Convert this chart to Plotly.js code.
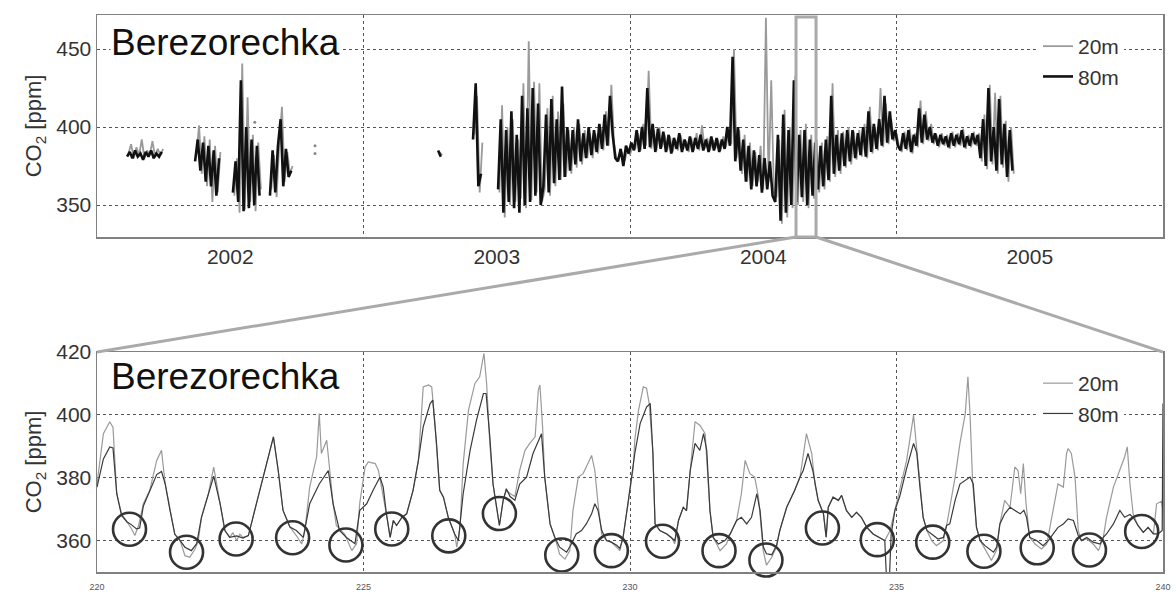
<!DOCTYPE html>
<html>
<head>
<meta charset="utf-8">
<script src="https://cdn.plot.ly/plotly-3.0.1.min.js"></script>
<style>html,body{margin:0;padding:0;background:#fff;}#chart{width:1176px;height:594px;}</style>
</head>
<body>
<div id="chart"></div>
<script>
// ---------------- DATA ----------------
// Top panel: multi-year record, segments sampled every sampleStep years
const segStart = [2002.113, 2002.368, 2002.51, 2002.649, 2003.28, 2003.411, 2003.505];
const sampleStep = 0.01;
const top80 = [
  [381,384,380,385,381,383,379,384,381,385,380,383,381,384],
  [378,392,372,390,365,388,362,385,356,380],
  [358,378,352,430,346,400,348,392,350,388,356],
  [356,385,358,388,405,362,386,368,372],
  [385,381],
  [392,428,362,370],
  [360,405,345,398,352,410,348,395,
   345,420,350,412,352,425,356,415,350,
   362,408,358,418,364,405,366,426,368,400,
   372,398,376,405,378,396,380,400,
   382,398,384,402,386,408,388,420,395,
   380,378,386,375,388,383,390,
   385,398,384,400,386,425,387,402,384,399,386,397,
   384,395,383,393,386,396,384,392,385,394,384,393,386,395,385,392,384,394,
   385,393,384,392,386,400,388,445,
   378,400,372,392,365,388,360,385,
   362,382,358,380,360,378,356,
   352,395,340,408,345,398,350,430,352,
   395,355,398,350,392,356,390,360,
   388,362,392,366,420,370,395,372,396,375,398,
   378,398,380,396,382,400,381,410,384,402,386,405,388,
   420,390,410,392,398,388,
   385,396,386,398,384,395,
   388,412,390,408,392,400,390,
   396,388,395,389,394,387,396,388,395,389,398,387,394,388,396,389,395,
   380,405,375,425,378,400,372,418,376,402,368,398,372]
];
const top20 = [
  [383,389,380,387,382,392,380,385,382,391,381,386,382,386],
  [383,401,370,394,362,392,352,388,358,384],
  [356,380,345,441,347,419,352,395,346,390,360],
  [360,382,355,390,413,365,384,370,375],
  [384,382],
  [395,420,358,390],
  [358,414,342,400,350,405,352,392,
   354,428,348,455,353,429,358,428,352,
   360,412,356,420,362,410,366,415,368,398,
   370,400,374,402,376,398,380,396,
   380,396,383,400,385,410,388,427,390,
   378,382,384,378,386,382,388,
   386,396,385,402,388,436,386,398,385,400,387,395,
   385,394,384,392,385,395,386,391,384,393,385,396,385,401,386,393,385,392,
   386,392,385,394,387,398,389,450,
   380,398,370,395,365,390,362,384,
   365,388,360,470,365,430,358,
   355,392,338,411,342,400,348,433,350,
   398,352,402,348,395,354,392,358,
   390,360,394,365,428,368,398,370,397,374,400,
   376,397,379,398,381,402,380,413,383,400,385,425,387,
   415,389,405,391,396,387,
   384,397,385,399,383,396,
   387,417,389,410,391,402,389,
   395,387,396,388,395,386,397,387,396,388,399,386,395,387,397,388,396,
   378,408,373,427,376,422,370,420,374,404,365,400,370]
];
const isoYear = [2002.592, 2002.818, 2002.818];
const isoCO2  = [403, 388, 383];
const yearTickVals = [2002.5, 2003.5, 2004.5, 2005.5];
const yearTickText = ['2002', '2003', '2004', '2005'];
const zoomWindow = [2004.623, 2004.698];

// Bottom panel: days 220-240 [day, ppm]
const bottom20m = [
 [220.0,378],[220.12,394],[220.24,397.8],[220.3,396],[220.37,375],[220.46,368.5],[220.56,366],[220.65,363.7],[220.71,361.6],[220.78,364.8],[220.87,371.7],[220.99,376],[221.12,385.5],[221.21,388.7],[221.28,378],[221.37,369.6],[221.46,362],[221.56,360],[221.65,355.2],[221.74,354.7],[221.84,357.3],[221.9,360],[221.96,367.4],[222.09,374.9],[222.19,383.4],[222.31,371.7],[222.4,363.2],[222.49,361],[222.55,362.5],[222.62,360],[222.68,362],[222.74,361],[222.84,361.6],[222.99,371.7],[223.15,382.3],[223.31,393],[223.4,382.3],[223.49,369.6],[223.62,364.3],[223.74,361.6],[223.84,358.9],[223.9,363],[223.99,377],[224.12,386.6],[224.17,400.4],[224.21,387.7],[224.31,391.9],[224.34,387],[224.43,371.7],[224.49,364.8],[224.65,362],[224.78,356.8],[224.87,359],[224.93,372],
 [225.03,383.4],[225.09,385],[225.22,384.5],[225.28,382.3],[225.34,377],[225.43,368.5],[225.5,361],[225.56,366.4],[225.62,364.8],[225.72,367.4],[225.81,368.5],[225.93,376],[226.03,385.5],[226.12,408.9],[226.22,409.5],[226.28,408.9],[226.34,397.2],[226.43,376],[226.5,373.8],[226.59,367.4],[226.71,362.1],[226.75,357.9],[226.81,364],[226.87,384.5],[226.97,401.5],[227.09,410],[227.18,412.1],[227.26,419.6],[227.31,410],[227.37,390.9],[227.43,378],[227.5,369.6],[227.55,364.8],[227.62,372.8],[227.68,376],[227.75,375],[227.84,374],[227.93,382.3],[228.03,388.7],[228.12,390.9],[228.22,393],[228.28,407.9],[228.31,409.5],[228.36,396.2],[228.4,380.2],[228.5,365.3],[228.59,361],[228.68,355.7],[228.78,354.1],[228.87,356.8],[228.93,369.6],[229.03,380.2],[229.12,381.3],[229.18,383.4],[229.28,387.1],[229.34,382.3],[229.4,371.7],[229.47,362],[229.56,360],[229.65,359.5],[229.75,357.9],[229.81,356.8],[229.87,361],[229.96,371.7],[230.0,375],[230.06,383],
 [230.09,392],[230.16,401.5],[230.25,408.9],[230.31,408.5],[230.36,403.6],[230.43,388],[230.47,365.3],[230.56,363.2],[230.69,362.1],[230.78,361],[230.84,358.9],[230.91,366.4],[231.0,370.6],[231.06,369.5],[231.13,382.3],[231.22,397.8],[231.31,396.7],[231.41,394],[231.5,369.6],[231.56,361],[231.69,356.8],[231.81,358.9],[231.88,362.1],[232.0,366.4],[232.09,374.9],[232.16,385.5],[232.25,381.3],[232.34,380.2],[232.41,373.8],[232.5,356.8],[232.56,352.2],[232.66,354.7],[232.75,358],[232.81,363.2],[232.94,370.6],[233.09,376],[233.19,380.2],[233.31,394],[233.41,387.7],[233.47,378],[233.53,372.8],[233.63,368.5],[233.68,361.1],[233.72,370.6],[233.81,373.8],[233.91,372.8],[233.97,374.4],[234.06,369.6],[234.16,367.4],[234.25,369],[234.34,367.4],[234.44,364.3],[234.56,362.1],[234.69,361],[234.78,360],[234.88,363.2],[234.97,369.6],[235.06,376],
 [235.19,385.5],[235.32,399.9],[235.38,389],[235.44,377],[235.5,367.4],[235.57,363.2],[235.66,360],[235.75,358.4],[235.88,360],[235.94,364.8],[236.0,370.6],[236.1,380.2],[236.19,390.9],[236.29,400.4],[236.34,412.1],[236.38,400],[236.43,378],[236.5,364.3],[236.57,360],[236.66,357.3],[236.78,353.7],[236.88,357],[236.94,365.3],[237.03,372.8],[237.13,370.6],[237.22,383.4],[237.28,382.3],[237.33,374.9],[237.38,384.5],[237.43,371.7],[237.5,361],[237.6,358.9],[237.72,357.3],[237.82,358.9],[237.94,369.6],[238.03,378],[238.13,377],[238.19,387.7],[238.22,389.3],[238.28,387.7],[238.35,380.2],[238.41,363.2],[238.47,360],[238.57,360.5],[238.69,358.9],[238.79,356.8],[238.88,361],[238.94,367.4],[239.07,377],[239.19,382.3],[239.28,386.6],[239.33,389.8],[239.38,378],[239.44,368.5],[239.53,364.8],[239.63,362.6],[239.72,364.2],[239.82,362.1],[239.88,371.7],[239.97,372.5],[240.0,369.6]
];
const bottom80m = [
 [220.0,377],[220.12,386],[220.24,389.8],[220.3,389.5],[220.37,375],[220.46,368],[220.56,366],[220.65,365],[220.74,363.7],[220.8,364],[220.87,371],[220.99,376],[221.12,381],[221.21,382],[221.28,378],[221.37,369.6],[221.46,362],[221.56,360],[221.65,357.9],[221.77,356.8],[221.87,359],[221.96,367.4],[222.09,374.9],[222.19,380.5],[222.31,371.7],[222.4,363.2],[222.49,361],[222.62,361.5],[222.74,360.8],[222.84,361.6],[222.99,371.7],[223.15,382.3],[223.31,393],[223.4,382.3],[223.49,369.6],[223.62,364.3],[223.74,363.2],[223.87,361],[223.99,371.7],[224.17,378],[224.34,382.3],[224.43,371.7],[224.55,363.2],[224.68,361],[224.84,359],[224.93,369.6],
 [225.06,371.7],[225.18,376],[225.31,380.2],[225.37,377],[225.43,368.5],[225.5,361],[225.56,366.4],[225.62,364.8],[225.72,367.4],[225.81,368.5],[225.93,376],[226.03,385.5],[226.12,396.2],[226.25,403.6],[226.3,404.7],[226.37,390.9],[226.43,376],[226.5,373.8],[226.59,367.4],[226.71,362.1],[226.78,360],[226.87,374.9],[227.0,388.7],[227.12,398.3],[227.25,406.8],[227.3,406.8],[227.37,393],[227.43,378],[227.5,369.6],[227.55,364.8],[227.62,372.8],[227.68,376.5],[227.75,374],[227.84,372.8],[227.93,378],[228.06,380.2],[228.18,387.7],[228.28,391.9],[228.34,394],[228.4,380.2],[228.5,365.3],[228.59,361],[228.68,357.9],[228.81,356.3],[228.9,358.9],[228.99,362.1],[229.09,363.2],[229.18,365.3],[229.28,368.5],[229.34,371.7],[229.4,369.6],[229.47,363.2],[229.56,360],[229.65,359.5],[229.75,358.5],[229.81,357.5],[229.87,361],[229.96,371.7],
 [230.09,387.7],[230.19,397.2],[230.31,402.5],[230.38,403.6],[230.43,387.7],[230.47,365.3],[230.56,363.2],[230.69,362.1],[230.78,361],[230.84,360],[230.91,366.4],[231.0,370.6],[231.06,369.5],[231.13,382.3],[231.22,390.9],[231.31,388.7],[231.38,394],[231.44,388.7],[231.5,369.6],[231.56,361],[231.66,358.9],[231.78,360],[231.88,362.1],[232.0,366.4],[232.09,367.4],[232.19,365.3],[232.28,367.4],[232.38,374.9],[232.44,369.6],[232.5,358],[232.56,355.8],[232.66,355.5],[232.75,358.5],[232.81,363.2],[232.94,370.6],[233.09,376],[233.19,380.2],[233.25,382.3],[233.34,387.7],[233.43,382.3],[233.53,372.8],[233.63,368.5],[233.68,361.1],[233.72,370.6],[233.81,373.8],[233.91,372.8],[233.97,374.4],[234.06,369.6],[234.16,367.4],[234.25,369],[234.34,367.4],[234.44,364.3],[234.56,362.1],[234.69,361],[234.78,360],[234.82,345],[234.86,345],[234.9,362],[234.97,369.6],[235.06,374],
 [235.19,383],[235.32,390.9],[235.38,388],[235.44,377],[235.5,367.4],[235.57,363.2],[235.66,362.1],[235.78,360.5],[235.88,361],[235.94,364.8],[236.0,365.3],[236.1,372.8],[236.19,378],[236.32,379.7],[236.38,380.2],[236.44,378],[236.5,364.3],[236.57,360],[236.66,358.4],[236.82,356.3],[236.88,357.9],[236.94,365.3],[237.03,368.5],[237.13,370.6],[237.22,369.6],[237.32,368.5],[237.39,369.6],[237.44,367.4],[237.5,361],[237.63,360],[237.75,358.4],[237.85,360],[237.94,362.1],[238.03,364.2],[238.13,365.3],[238.22,366.9],[238.32,366.4],[238.41,361.6],[238.47,360],[238.57,361],[238.69,359.5],[238.82,358.9],[238.88,361],[238.94,362.1],[239.07,365.3],[239.19,369.6],[239.28,367.4],[239.38,368.3],[239.44,367.4],[239.53,364.8],[239.63,362.6],[239.72,364.2],[239.82,362.1],[239.91,362.1],[239.985,363.2],[240.0,403.6]
];
const circleDay = [220.61,221.68,222.61,223.67,224.67,225.53,226.6,227.55,228.72,229.65,230.61,231.67,232.55,233.61,234.64,235.68,236.64,237.64,238.62,239.6];
const circleCO2 = [363.6,356.3,360.5,360.9,358.6,363.7,361.5,368.6,355.4,356.8,359.8,356.8,353.8,364,360.3,359.5,356.6,357.7,357,362.9];
const dayTicks = [220, 225, 230, 235, 240];

// ---------------- BUILD ----------------
function buildSeries(segs, offset) {
  const x = [], y = [];
  segs.forEach((vals, k) => {
    vals.forEach((v, i) => { x.push(segStart[k] + offset + i * sampleStep); y.push(v); });
    x.push(null); y.push(null);
  });
  return {x, y};
}
const s20 = buildSeries(top20, sampleStep / 2);
const s80 = buildSeries(top80, 0);

const W = 1176, H = 594;
const px = v => v / W, py = v => 1 - v / H;
const FONT = 'Liberation Sans, Arial, Helvetica, sans-serif';
const c20 = '#9a9a9a', c80top = '#111', c80 = '#3a3a3a';

const traces = [
  {x: s20.x, y: s20.y, type: 'scatter', mode: 'lines', name: '20m', line: {color: c20, width: 1.8}, xaxis: 'x', yaxis: 'y', legend: 'legend', connectgaps: false},
  {x: s80.x, y: s80.y, type: 'scatter', mode: 'lines', name: '80m', line: {color: c80top, width: 2.6}, xaxis: 'x', yaxis: 'y', legend: 'legend', connectgaps: false},
  {x: isoYear, y: isoCO2, type: 'scatter', mode: 'markers', marker: {size: 3, color: '#888'}, showlegend: false, xaxis: 'x', yaxis: 'y'},
  {x: bottom20m.map(p => p[0]), y: bottom20m.map(p => p[1]), type: 'scatter', mode: 'lines', name: '20m', line: {color: c20, width: 1.2}, xaxis: 'x2', yaxis: 'y2', legend: 'legend2'},
  {x: bottom80m.map(p => p[0]), y: bottom80m.map(p => p[1]), type: 'scatter', mode: 'lines', name: '80m', line: {color: c80, width: 1.2}, xaxis: 'x2', yaxis: 'y2', legend: 'legend2'},
  {x: circleDay, y: circleCO2, type: 'scatter', mode: 'markers', cliponaxis: false, showlegend: false,
   marker: {symbol: 'circle-open', size: 33, color: '#333', line: {width: 2.6, color: '#333'}}, xaxis: 'x2', yaxis: 'y2'}
];

const frame = {showline: true, mirror: true, linecolor: '#808080', linewidth: 1.5, zeroline: false, ticks: ''};
const grid = {showgrid: true, gridcolor: '#555', griddash: 'dot', gridwidth: 1};

const layout = {
  width: W, height: H,
  margin: {l: 0, r: 0, t: 0, b: 0},
  paper_bgcolor: '#fff', plot_bgcolor: '#fff',
  font: {family: FONT, color: '#333'},
  showlegend: true,
  xaxis: Object.assign({}, frame, {
    domain: [px(97), px(1163)], range: [2002, 2006], anchor: 'y',
    tickmode: 'array', tickvals: yearTickVals, ticktext: yearTickText, showgrid: false,
    tickfont: {size: 21, color: '#333'},
    minor: {tickmode: 'linear', tick0: 2002, dtick: 1, showgrid: true, gridcolor: '#555', griddash: 'dot', gridwidth: 1, ticks: ''}
  }),
  yaxis: Object.assign({}, frame, grid, {
    domain: [py(237), py(15)], range: [329.5, 471.8], anchor: 'x',
    tickmode: 'array', tickvals: [350, 400, 450], tickfont: {size: 21, color: '#333'},
    title: {text: 'CO<sub>2</sub> [ppm]', font: {size: 22, color: '#333'}, standoff: 8}
  }),
  xaxis2: Object.assign({}, frame, grid, {
    domain: [px(97), px(1163)], range: [220, 240], anchor: 'y2',
    tickmode: 'array', tickvals: dayTicks, tickfont: {size: 9, color: '#555'}, ticklabelstandoff: 6
  }),
  yaxis2: Object.assign({}, frame, grid, {
    domain: [py(572), py(352)], range: [350, 420], anchor: 'x2',
    tickmode: 'array', tickvals: [360, 380, 400, 420], tickfont: {size: 21, color: '#333'},
    title: {text: 'CO<sub>2</sub> [ppm]', font: {size: 22, color: '#333'}, standoff: 8}
  }),
  legend: {x: px(1038), y: py(26), xanchor: 'left', yanchor: 'top', bgcolor: '#fff', borderwidth: 0,
           font: {size: 21, color: '#333'}, itemwidth: 30, tracegroupgap: 0},
  legend2: {x: px(1038), y: py(363), xanchor: 'left', yanchor: 'top', bgcolor: '#fff', borderwidth: 0,
            font: {size: 21, color: '#333'}, itemwidth: 30, tracegroupgap: 0},
  annotations: [
    {text: 'Berezorechka', xref: 'paper', yref: 'paper', x: px(110), y: py(42), xanchor: 'left', yanchor: 'middle',
     showarrow: false, font: {size: 37, color: '#111'}, bgcolor: '#fff', borderpad: 0},
    {text: 'Berezorechka', xref: 'paper', yref: 'paper', x: px(110), y: py(376), xanchor: 'left', yanchor: 'middle',
     showarrow: false, font: {size: 37, color: '#111'}, bgcolor: '#fff', borderpad: 0}
  ],
  shapes: [
    {type: 'rect', xref: 'x', yref: 'paper', x0: zoomWindow[0], x1: zoomWindow[1], y0: py(237), y1: py(17),
     line: {color: '#aaa', width: 3}, layer: 'above'},
    {type: 'line', xref: 'x', yref: 'paper', x0: zoomWindow[0], y0: py(237), x1: 2002, y1: py(352),
     line: {color: '#aaa', width: 3}},
    {type: 'line', xref: 'x', yref: 'paper', x0: zoomWindow[1], y0: py(237), x1: 2006, y1: py(352),
     line: {color: '#aaa', width: 3}}
  ]
};

Plotly.newPlot('chart', traces, layout, {displayModeBar: false, staticPlot: true});
</script>
</body>
</html>
